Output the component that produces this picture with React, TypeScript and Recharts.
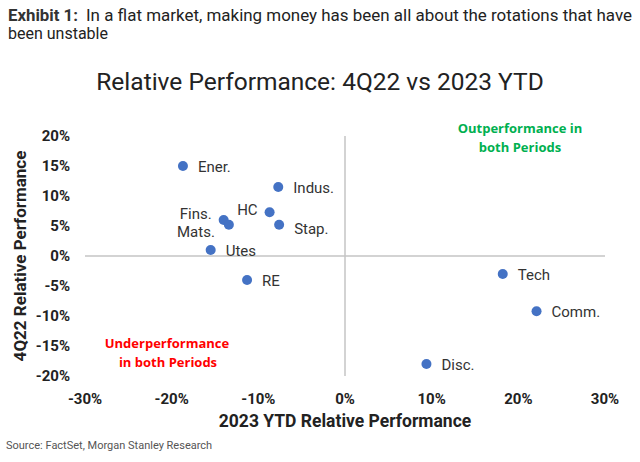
import React from "react"
import {
  ReferenceLine,
  Scatter,
  ScatterChart,
  XAxis,
  YAxis,
} from "recharts"

// sectors, 2023 YTD relative perf (x) and 4Q22 relative perf (y), in %
const sectors = ["Ener.", "Indus.", "HC", "Stap.", "Fins.", "Mats.", "Utes", "RE", "Tech", "Comm.", "Disc."]
const ytd2023 = [-18.7, -7.7, -8.7, -7.6, -14.0, -13.4, -15.5, -11.3, 18.2, 22.1, 9.4]
const q422 = [15.0, 11.5, 7.3, 5.2, 6.0, 5.2, 1.0, -4.0, -3.0, -9.2, -18.0]

const xTicks = [-30, -20, -10, 0, 10, 20, 30]
const yTicks = [-20, -15, -10, -5, 0, 5, 10, 15, 20]

const points = sectors.map((name, i) => ({ name, x: ytd2023[i], y: q422[i] }))

// labels sit right of the dot unless listed here
const labelPlacement: Record<string, { dx: number; dy: number; anchor: "start" | "end" }> = {
  HC: { dx: -12, dy: -2, anchor: "end" },
  "Fins.": { dx: -12, dy: -6, anchor: "end" },
  "Mats.": { dx: -14, dy: 7, anchor: "end" },
  "Stap.": { dx: 15, dy: 4, anchor: "start" },
}

const DOT = "#4472C4"
const FONT = "Roboto, sans-serif"

function Dot(props: any) {
  const { cx, cy, payload } = props
  const p = labelPlacement[payload.name] ?? { dx: 15, dy: 1, anchor: "start" }
  return (
    <g>
      <circle cx={cx} cy={cy} r={5} fill={DOT} />
      <text
        x={cx + p.dx}
        y={cy + p.dy}
        textAnchor={p.anchor}
        dominantBaseline="central"
        fontSize={15}
        fontFamily={FONT}
        fill="#333"
      >
        {payload.name}
      </text>
    </g>
  )
}

const pct = (v: number) => `${v}%`

export default function App() {
  return (
    <div
      style={{
        position: "absolute",
        left: 0,
        top: 0,
        width: 640,
        height: 462,
        background: "#fff",
        fontFamily: FONT,
      }}
    >
      <ScatterChart
        width={640}
        height={462}
        margin={{ top: 136, right: 35, bottom: 56, left: 25 }}
      >
        <XAxis
          type="number"
          dataKey="x"
          domain={[-30, 30]}
          ticks={xTicks}
          tickFormatter={pct}
          axisLine={false}
          tickLine={false}
          tickMargin={11}
          height={30}
          tick={{ fontSize: 15, fontWeight: 700, fill: "#222", fontFamily: FONT }}
        />
        <YAxis
          type="number"
          dataKey="y"
          domain={[-20, 20]}
          ticks={yTicks}
          tickFormatter={pct}
          axisLine={false}
          tickLine={false}
          tickMargin={9}
          width={60}
          tick={{ fontSize: 15, fontWeight: 700, fill: "#222", fontFamily: FONT }}
        />
        <ReferenceLine x={0} stroke="#c4c4c4" strokeWidth={1.5} />
        <ReferenceLine y={0} stroke="#c4c4c4" strokeWidth={1.5} />
        <Scatter data={points} shape={Dot} isAnimationActive={false} />
      </ScatterChart>

      <svg
        width={640}
        height={462}
        style={{ position: "absolute", left: 0, top: 0, pointerEvents: "none" }}
        fontFamily={FONT}
      >
        <text x={8} y={21} fontSize={16} fontWeight={700} fill="#333" textLength={70} lengthAdjust="spacingAndGlyphs">
          Exhibit 1:
        </text>
        <text x={86} y={21} fontSize={16} fill="#222" textLength={546} lengthAdjust="spacingAndGlyphs">
          In a flat market, making money has been all about the rotations that have
        </text>
        <text x={8} y={39} fontSize={16} fill="#222">been unstable</text>

        <text x={320} y={90} fontSize={24.5} fill="#222" textAnchor="middle">
          Relative Performance: 4Q22 vs 2023 YTD
        </text>

        <text
          transform="translate(20,256) rotate(-90)"
          textAnchor="middle"
          dominantBaseline="central"
          fontSize={17}
          fontWeight={700}
          fill="#222"
        >
          4Q22 Relative Performance
        </text>
        <text x={345} y={427} textAnchor="middle" fontSize={17.5} fontWeight={700} fill="#222">
          2023 YTD Relative Performance
        </text>

        <g fontFamily="'Open Sans', sans-serif" fontSize={13} fontWeight={700} textAnchor="middle">
          <text x={520} y={133} fill="#00B050">Outperformance in</text>
          <text x={520} y={152} fill="#00B050">both Periods</text>
          <text x={167} y={348} fill="#FF0000">Underperformance</text>
          <text x={168} y={367} fill="#FF0000">in both Periods</text>
        </g>

        <text x={6} y={449} fontSize={11} fill="#555">
          Source: FactSet, Morgan Stanley Research
        </text>
      </svg>
    </div>
  )
}
